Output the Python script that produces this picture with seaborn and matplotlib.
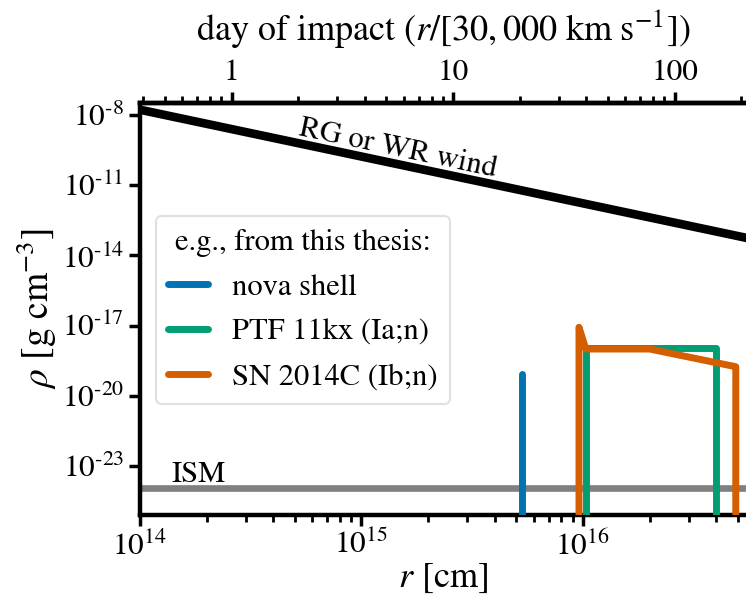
import numpy as np
import pandas as pd
import matplotlib
matplotlib.use("Agg")
import matplotlib.pyplot as plt
import seaborn as sns

# ---- data ----
wind_r = [1e14, 6e16]
wind_rho = [1.7e-8, 4.7e-14]
ism_r = [1e14, 6e16]
ism_rho = [1.1e-24, 1.1e-24]
nova_r = [5.3e15, 5.3e15]
nova_rho = [1e-30, 8.5e-20]
ptf_r = [1.03e16, 1.03e16, 4.0e16, 4.0e16]
ptf_rho = [1e-30, 1.1e-18, 1.1e-18, 1e-30]
sn_r = [9.6e15, 9.6e15, 1.03e16, 2.0e16, 4.9e16, 4.9e16]
sn_rho = [1e-30, 8.5e-18, 1.0e-18, 1.0e-18, 1.75e-19, 1e-30]
legend_labels = ["nova shell", "PTF 11kx (Ia;n)", "SN 2014C (Ib;n)"]
yticks = [1e-23, 1e-20, 1e-17, 1e-14, 1e-11, 1e-8]
ytick_labels = ["-23", "-20", "-17", "-14", "-11", "-8"]
xticks = [1e14, 1e15, 1e16]
xtick_labels = ["14", "15", "16"]
day_ticks = [1, 10, 100]
day_labels = ["1", "10", "100"]
cm_per_day = 3e9 * 86400.0

sns.set_theme(style="ticks")
plt.rcParams["font.family"] = ["STIXGeneral", "DejaVu Serif"]
plt.rcParams["mathtext.fontset"] = "stix"
for k in ["text.color", "axes.labelcolor", "xtick.color", "ytick.color", "axes.edgecolor"]:
    plt.rcParams[k] = "black"
FS = 22.5
LFS = 26
plt.rcParams["font.size"] = FS

pal = sns.color_palette("colorblind")
c_blue, c_green, c_orange = pal[0], pal[2], pal[3]

fig = plt.figure(figsize=(7.46, 6.01), dpi=100)
ax = fig.add_axes([140 / 746, 1 - 515 / 601, 606 / 746, (515 - 103) / 601])

def draw(r, rho, color, lw, z):
    df = pd.DataFrame({"r": r, "rho": rho})
    sns.lineplot(data=df, x="r", y="rho", sort=False, estimator=None, ax=ax,
                 color=color, lw=lw, zorder=z, solid_capstyle="round",
                 solid_joinstyle="round", legend=False)

ax.set_xscale("log")
ax.set_yscale("log")
draw(ism_r, ism_rho, "#808080", 4.8, 2)
draw(wind_r, wind_rho, "black", 6.2, 3)
draw(nova_r, nova_rho, c_blue, 5, 4)
draw(ptf_r, ptf_rho, c_green, 5, 5)
draw(sn_r, sn_rho, c_orange, 5, 6)

ax.set_xlim(1e14, 5.45e16)
ax.set_ylim(8e-26, 3.3e-8)

ax.set_xticks(xticks)
ax.set_xticklabels([r"$10^{%s}$" % t for t in xtick_labels], fontsize=FS)
ax.set_yticks(yticks)
ax.set_yticklabels([r"$10^{\text{%s}}$" % t for t in ytick_labels], fontsize=FS)
ax.yaxis.set_minor_locator(matplotlib.ticker.NullLocator())
ax.xaxis.set_minor_locator(matplotlib.ticker.LogLocator(base=10, subs=np.arange(2, 10)))
ax.xaxis.set_minor_formatter(matplotlib.ticker.NullFormatter())

for s in ["left", "bottom", "top"]:
    ax.spines[s].set_linewidth(3.2)
ax.spines["right"].set_visible(False)
ax.tick_params(axis="both", which="major", length=8, width=2.5, direction="out")
ax.tick_params(axis="x", which="minor", length=5, width=2, direction="out")

ax.set_xlabel(r"$r$ [cm]", fontsize=LFS, labelpad=0)
ax.set_ylabel(r"$\rho$ [g cm$^{-3}$]", fontsize=27, labelpad=2)

sec = ax.secondary_xaxis("top", functions=(lambda r: r / cm_per_day, lambda d: d * cm_per_day))
sec.set_xscale("log")
sec.set_xticks(day_ticks)
sec.set_xticklabels(day_labels, fontsize=FS)
sec.xaxis.set_minor_locator(matplotlib.ticker.LogLocator(base=10, subs=np.arange(2, 10)))
sec.xaxis.set_minor_formatter(matplotlib.ticker.NullFormatter())
sec.spines["top"].set_linewidth(3.2)
sec.tick_params(axis="x", which="major", length=8, width=2.5, direction="out")
sec.tick_params(axis="x", which="minor", length=5, width=2, direction="out")
sec.set_xlabel(r"day of impact ($r/[30,000\ \mathrm{km\ s}^{-1}]$)", fontsize=LFS, labelpad=14)

ax.text(1.46e15, 3.4e-10, "RG or WR wind", rotation=-12, ha="center", va="center", fontsize=22)
ax.text(1.39e14, 2.0e-24, "ISM", ha="left", va="baseline", fontsize=22)

handles = [matplotlib.lines.Line2D([], [], color=c, lw=5) for c in (c_blue, c_green, c_orange)]
leg = ax.legend(handles, legend_labels, title="e.g., from this thesis:", loc="upper left",
                bbox_to_anchor=(0.026, 0.725), borderaxespad=0, fontsize=22, title_fontsize=22,
                handlelength=1.3, handletextpad=0.8, labelspacing=0.55, frameon=True)
leg.get_frame().set_edgecolor("#d9d9d9")
leg.get_frame().set_linewidth(1.5)
leg.set_zorder(10)

fig.savefig("out.png", dpi=100)
